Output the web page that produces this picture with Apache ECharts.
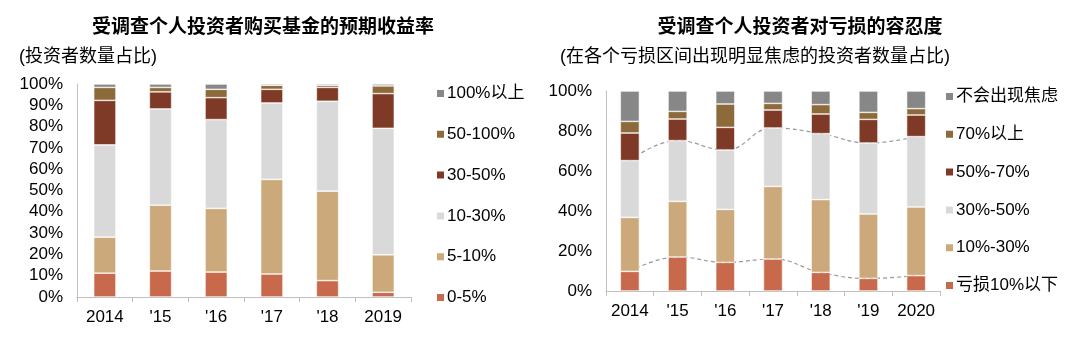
<!DOCTYPE html>
<html>
<head>
<meta charset="utf-8">
<script src="https://cdn.jsdelivr.net/npm/echarts@6/dist/echarts.min.js"></script>
<style>html,body{margin:0;padding:0;background:#fff;}#c{width:1080px;height:337px;}</style>
</head>
<body>
<div id="c"></div>
<script>
// ---- Left chart data ----
const leftCategories = ['2014', "'15", "'16", "'17", "'18", '2019'];
const leftNames = ['0-5%', '5-10%', '10-30%', '30-50%', '50-100%', '100%以上'];
const left_0_5 = [11.2, 12.2, 11.7, 10.8, 7.7, 2.2];
const left_5_10 = [16.9, 30.9, 29.9, 44.4, 42.0, 17.6];
const left_10_30 = [43.3, 45.2, 41.7, 35.9, 42.2, 59.4];
const left_30_50 = [20.9, 8.0, 10.3, 6.4, 6.5, 16.3];
const left_50_100 = [6.1, 2.1, 3.9, 1.9, 1.0, 3.6];
const left_100up = [1.6, 1.6, 2.5, 0.6, 0.6, 0.9];

// ---- Right chart data ----
const rightCategories = ['2014', "'15", "'16", "'17", "'18", "'19", '2020'];
const rightNames = ['亏损10%以下', '10%-30%', '30%-50%', '50%-70%', '70%以上', '不会出现焦虑'];
const right_lt10 = [9.8, 17.0, 14.3, 16.0, 9.3, 6.3, 7.7];
const right_10_30 = [27.0, 27.8, 26.5, 36.3, 36.4, 32.2, 34.3];
const right_30_50 = [28.4, 30.4, 29.7, 29.2, 33.0, 35.5, 35.2];
const right_50_70 = [13.8, 10.8, 11.3, 9.0, 9.8, 11.8, 10.8];
const right_70up = [5.8, 3.8, 11.7, 3.3, 4.7, 3.5, 3.2];
const right_none = [15.2, 10.2, 6.5, 6.2, 6.8, 10.7, 8.8];

const yTicksLeft = [0, 10, 20, 30, 40, 50, 60, 70, 80, 90, 100];
const yTicksRight = [0, 20, 40, 60, 80, 100];

const colors = ['#C9694B', '#CCA97B', '#D9D9D9', '#7E3A27', '#8C6A3A', '#878787'];
const FONT = '"Liberation Sans", Arial, "Noto Sans CJK SC", sans-serif';

const leftData = [left_0_5, left_5_10, left_10_30, left_30_50, left_50_100, left_100up];
const rightData = [right_lt10, right_10_30, right_30_50, right_50_70, right_70up, right_none];

function cum(arrs, n) {
  return arrs[0].map((_, i) => {
    let s = 0;
    for (let k = 0; k < n; k++) s += arrs[k][i];
    return +s.toFixed(2);
  });
}

const series = [];
leftData.forEach((d, i) => {
  series.push({
    name: leftNames[i], type: 'bar', stack: 'L', xAxisIndex: 0, yAxisIndex: 0,
    data: d, barWidth: '40%', z: 3,
    itemStyle: { color: colors[i], borderColor: '#fff', borderWidth: 0.6 }
  });
});
rightData.forEach((d, i) => {
  series.push({
    name: rightNames[i], type: 'bar', stack: 'R', xAxisIndex: 1, yAxisIndex: 1,
    data: d, barWidth: '40%', z: 3,
    itemStyle: { color: colors[i], borderColor: '#fff', borderWidth: 0.6 }
  });
});
[cum(rightData, 1), cum(rightData, 3)].forEach((d, i) => {
  series.push({
    name: 'line' + i, type: 'line', xAxisIndex: 1, yAxisIndex: 1, data: d,
    smooth: 0.45, symbol: 'none', z: 1, silent: true,
    lineStyle: { color: '#999999', width: 1.2, type: [4, 3] }
  });
});

const axisLineStyle = { color: '#BFBFBF', width: 1 };
function xAxis(cats, idx) {
  return {
    type: 'category', gridIndex: idx, data: cats,
    axisLine: { show: true, lineStyle: axisLineStyle },
    axisTick: { show: true, length: 5, lineStyle: axisLineStyle },
    axisLabel: { color: '#000', fontSize: 17, fontFamily: FONT, margin: 12, interval: 0, hideOverlap: false }
  };
}
function yAxis(idx, interval) {
  return {
    type: 'value', gridIndex: idx, min: 0, max: 100, interval: interval,
    axisLine: { show: true, lineStyle: axisLineStyle },
    axisTick: { show: false }, splitLine: { show: false },
    axisLabel: { color: '#000', fontSize: 17, fontFamily: FONT, margin: 14, formatter: v => v + '%' }
  };
}

const chart = echarts.init(document.getElementById('c'), null, { renderer: 'canvas' });
chart.setOption({
  animation: false,
  backgroundColor: '#fff',
  title: [
    { text: '受调查个人投资者购买基金的预期收益率', left: 258, top: 13, textAlign: 'center',
      textStyle: { fontSize: 19, fontWeight: 'bold', color: '#000', fontFamily: FONT } },
    { text: '(投资者数量占比)', left: 14, top: 43,
      textStyle: { fontSize: 18, fontWeight: 'normal', color: '#000', fontFamily: FONT } },
    { text: '受调查个人投资者对亏损的容忍度', left: 795, top: 13, textAlign: 'center',
      textStyle: { fontSize: 19, fontWeight: 'bold', color: '#000', fontFamily: FONT } },
    { text: '(在各个亏损区间出现明显焦虑的投资者数量占比)', left: 555, top: 43,
      textStyle: { fontSize: 18, fontWeight: 'normal', color: '#000', fontFamily: FONT } }
  ],
  legend: [
    { orient: 'vertical', left: 430, top: 80, itemWidth: 9, itemHeight: 9, itemGap: 23.8,
      data: leftNames.slice().reverse(), icon: 'rect',
      textStyle: { fontSize: 17, color: '#000', fontFamily: FONT, padding: [0, 0, 0, -3] } },
    { orient: 'vertical', left: 939, top: 83, itemWidth: 9, itemHeight: 9, itemGap: 20.8,
      data: rightNames.slice().reverse(), icon: 'rect',
      textStyle: { fontSize: 17, color: '#000', fontFamily: FONT, padding: [0, 0, 0, -3] } }
  ],
  grid: [
    { left: 77, right: 669, top: 84, bottom: 40 },
    { left: 606, right: 140, top: 91, bottom: 46 }
  ],
  xAxis: [xAxis(leftCategories, 0), xAxis(rightCategories, 1)],
  yAxis: [yAxis(0, 10), yAxis(1, 20)],
  series: series
});
</script>
</body>
</html>
